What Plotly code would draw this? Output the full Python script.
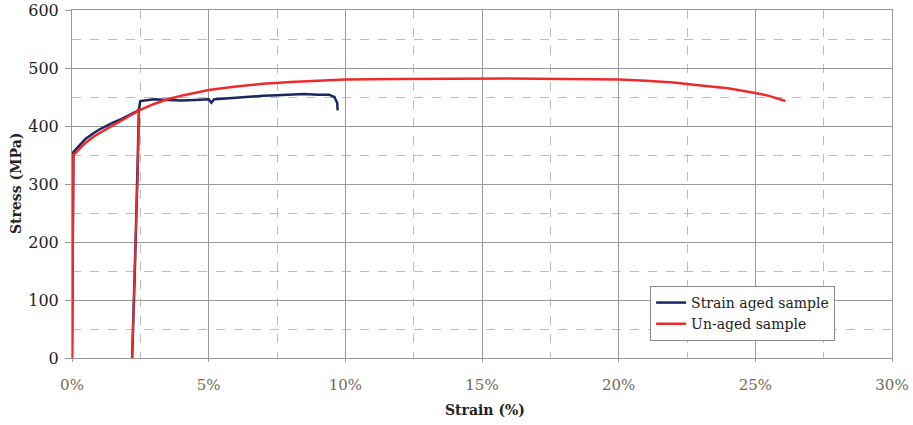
import plotly.graph_objects as go

# Strain aged sample (strain %, stress MPa)
aged_strain = [0.0, 0.05, 0.3, 0.5, 0.8, 1.0, 1.3, 1.5, 1.8, 2.0, 2.2, 2.4, 2.45, 2.4, 2.3, 2.2, 2.3, 2.4, 2.45, 2.5, 2.8, 3.0, 3.5, 4.0, 4.5, 5.0, 5.1, 5.2, 5.5, 6.0, 6.5, 7.0, 7.5, 8.0, 8.5, 9.0, 9.4, 9.6, 9.7, 9.72]
aged_stress = [0, 355, 368, 378, 388, 394, 401, 406, 412, 417, 421, 426, 430, 320, 150, 0, 150, 320, 430, 443, 445, 446, 445, 444, 445, 446, 440, 446, 447, 449, 450, 452, 453, 454, 455, 454, 454, 450, 440, 427]

# Un-aged sample
unaged_strain = [0.0, 0.05, 0.3, 0.5, 0.8, 1.0, 1.3, 1.5, 2.0, 2.5, 3.0, 3.5, 4.0, 5.0, 6.0, 7.0, 8.0, 9.0, 10.0, 12.0, 14.0, 16.0, 18.0, 20.0, 21.0, 22.0, 23.0, 24.0, 25.0, 25.5, 26.1]
unaged_stress = [0, 350, 362, 371, 382, 388, 396, 401, 414, 428, 438, 446, 452, 462, 468, 473, 476, 478, 480, 481, 482, 482, 481, 480, 478, 475, 470, 465, 457, 452, 443]

# Reloading segment drawn in red
reload_strain = [2.2, 2.3, 2.4, 2.45]
reload_stress = [0, 150, 320, 430]

x_ticks = [0, 5, 10, 15, 20, 25, 30]
x_labels = ["0%", "5%", "10%", "15%", "20%", "25%", "30%"]
y_ticks = [0, 100, 200, 300, 400, 500, 600]

BLUE = "#1c2660"
RED = "#ee2b2b"
SERIF = "DejaVu Serif"

W, H = 913, 425
L, R, T, B = 72, 21, 10, 67
pw, ph = W - L - R, H - T - B

fig = go.Figure()
fig.add_trace(go.Scatter(x=aged_strain, y=aged_stress, mode="lines",
                         line=dict(color=BLUE, width=2.5), name="Strain aged sample"))
fig.add_trace(go.Scatter(x=unaged_strain, y=unaged_stress, mode="lines",
                         line=dict(color=RED, width=2.5), name="Un-aged sample"))
fig.add_trace(go.Scatter(x=reload_strain, y=reload_stress, mode="lines",
                         line=dict(color=RED, width=2), showlegend=False))

fig.update_layout(
    width=W, height=H,
    margin=dict(l=L, r=R, t=T, b=B),
    plot_bgcolor="white", paper_bgcolor="white",
    font=dict(family=SERIF, size=13, color="#222"),
    showlegend=True,
    legend=dict(x=0.705, y=0.207, xanchor="left", yanchor="top",
                bgcolor="white", bordercolor="#888", borderwidth=1,
                font=dict(family=SERIF, size=14, color="#222"),
                itemwidth=30, tracegroupgap=0),
    xaxis=dict(range=[0, 30], tickvals=x_ticks, ticktext=x_labels,
               showgrid=True, gridcolor="#9a9a9a", gridwidth=1,
               tickfont=dict(color="#6b6b55", size=15, family=SERIF),
               ticks="outside", ticklen=3, tickcolor="#9a9a9a",
               ticklabelstandoff=10,
               minor=dict(dtick=2.5, showgrid=True, gridcolor="#bdbdbd", griddash="dash", gridwidth=1),
               showline=True, linecolor="#9a9a9a", mirror=True, zeroline=False,
               automargin=False),
    yaxis=dict(range=[0, 600], tickvals=y_ticks,
               showgrid=True, gridcolor="#9a9a9a", gridwidth=1,
               tickfont=dict(color="#222", size=16, family=SERIF),
               ticks="outside", ticklen=6, tickcolor="#9a9a9a",
               ticklabelstandoff=3,
               minor=dict(dtick=50, showgrid=True, gridcolor="#bdbdbd", griddash="dash", gridwidth=1),
               showline=True, linecolor="#9a9a9a", mirror=True, zeroline=False,
               automargin=False),
    annotations=[
        dict(text="<b>Strain (%)</b>", x=(485 - L) / pw, y=(H - B - 410) / ph,
             xref="paper", yref="paper", xanchor="center", yanchor="middle",
             showarrow=False, font=dict(family=SERIF, size=14, color="#222")),
        dict(text="<b>Stress (MPa)</b>", x=(16 - L) / pw, y=(H - B - 183) / ph,
             xref="paper", yref="paper", xanchor="center", yanchor="middle",
             showarrow=False, textangle=-90, font=dict(family=SERIF, size=14, color="#222")),
    ],
)

fig.write_html("out.html")
